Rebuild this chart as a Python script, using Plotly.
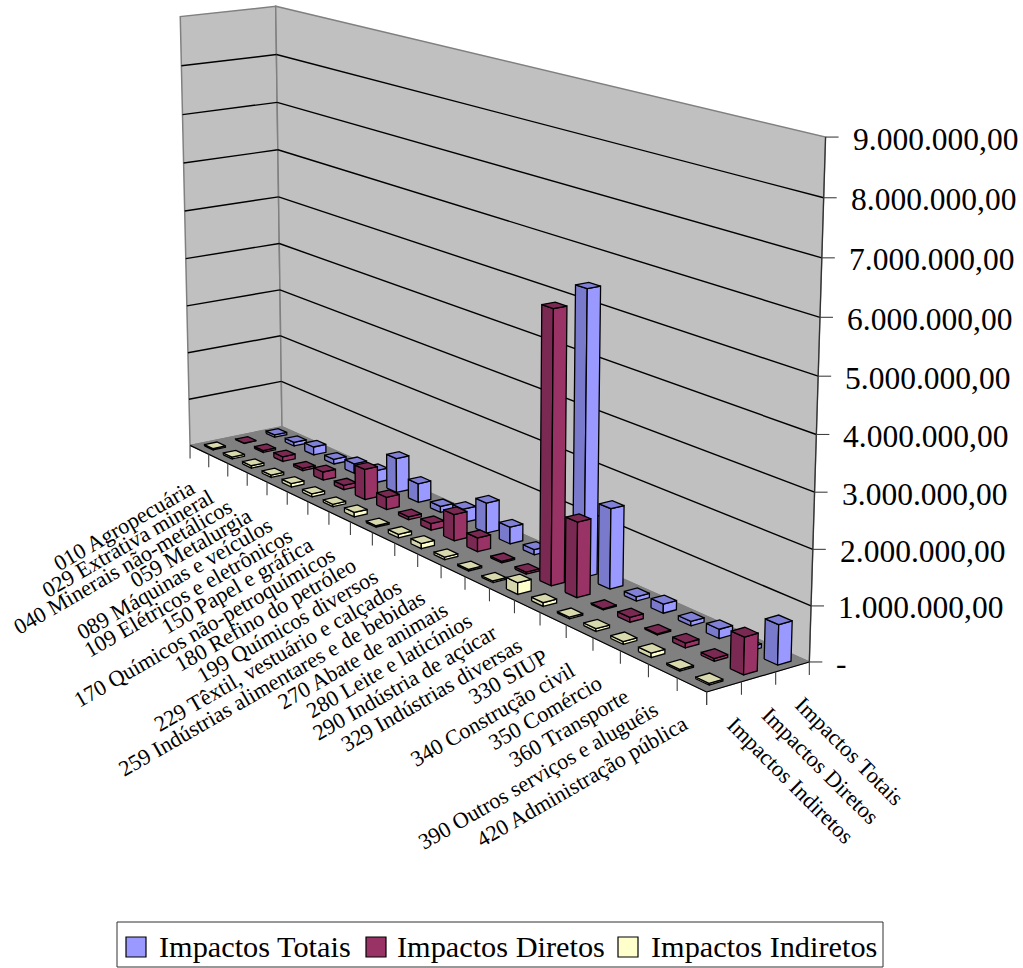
import numpy as np
import plotly.graph_objects as go

# Sector names along the category axis
sectors = [
    "010 Agropecuária", "029 Extrativa mineral", "040 Minerais não-metálicos",
    "059 Metalurgia", "089 Máquinas e veículos", "109 Elétricos e eletrônicos",
    "150 Papel e gráfica", "170 Químicos não-petroquímicos", "180 Refino do petróleo",
    "199 Químicos diversos", "229 Têxtil, vestuário e calçados",
    "259 Indústrias alimentares e de bebidas", "270 Abate de animais",
    "280 Leite e laticínios", "290 Indústria de açúcar", "329 Indústrias diversas",
    "330 SIUP", "340 Construção civil", "350 Comércio", "360 Transporte",
    "390 Outros serviços e aluguéis", "420 Administração pública",
]

impactos_totais = [
    50000, 80000, 170000, 100000, 200000, 250000, 700000, 380000, 120000, 270000, 600000,
    330000, 100000, 50000, 5420000, 1520000, 80000, 170000, 80000, 170000, 70000, 720000,
]
impactos_diretos = [
    10000, 40000, 100000, 50000, 170000, 90000, 620000, 250000, 60000, 130000, 520000,
    270000, 30000, 40000, 5170000, 1420000, 20000, 90000, 20000, 90000, 50000, 670000,
]
impactos_indiretos = [
    30000, 40000, 50000, 50000, 70000, 60000, 50000, 90000, 30000, 70000, 100000,
    50000, 30000, 30000, 220000, 70000, 30000, 50000, 50000, 80000, 30000, 30000,
]

value_ticks = [0, 1e6, 2e6, 3e6, 4e6, 5e6, 6e6, 7e6, 8e6, 9e6]
value_labels = ["-", "1.000.000,00", "2.000.000,00", "3.000.000,00", "4.000.000,00",
                "5.000.000,00", "6.000.000,00", "7.000.000,00", "8.000.000,00", "9.000.000,00"]
value_max = 9e6

# Series from the front row to the back row, with their three face shades
series = [
    dict(name="Impactos Indiretos", values=impactos_indiretos,
         light="#FFFFCC", side="#D6D6AC", top="#D9D9AE"),
    dict(name="Impactos Diretos", values=impactos_diretos,
         light="#993366", side="#7A2952", top="#7A2952"),
    dict(name="Impactos Totais", values=impactos_totais,
         light="#9999FF", side="#7A7ACC", top="#8080D6"),
]

# Camera: a projective map from the unit box (category, depth, value) to page pixels,
# solved from where the corners of the box sit on the page.
box = np.array([[0, 0, 0], [1, 0, 0], [1, 1, 0], [0, 1, 0], [0, 1, 1], [1, 1, 1], [0, 0, 1]], float)
page = np.array([[190, 445], [707, 692], [809, 662], [282, 427], [276, 6], [825.5, 137], [180, 17]], float)


def solve_camera(world, image):
    rows = []
    for (X, Y, Z), (u, v) in zip(world, image):
        rows.append([X, Y, Z, 1, 0, 0, 0, 0, -u * X, -u * Y, -u * Z, -u])
        rows.append([0, 0, 0, 0, X, Y, Z, 1, -v * X, -v * Y, -v * Z, -v])
    return np.linalg.svd(np.array(rows))[2][-1].reshape(3, 4)


CAMERA = solve_camera(box, page)


def project(cx, cy, cz):
    h = CAMERA @ np.array([cx, cy, cz, 1.0])
    return h[0] / h[2], h[1] / h[2]


fig = go.Figure()


def polygon(corners, fill, line, width=1.3):
    pts = [project(*c) for c in corners]
    pts.append(pts[0])
    fig.add_trace(go.Scatter(
        x=[p[0] for p in pts], y=[p[1] for p in pts], mode="lines", fill="toself",
        fillcolor=fill, line=dict(color=line, width=width), hoverinfo="skip", showlegend=False,
    ))


def segments(pairs, color, width):
    xs, ys = [], []
    for a, b in pairs:
        xs += [a[0], b[0], None]
        ys += [a[1], b[1], None]
    fig.add_trace(go.Scatter(x=xs, y=ys, mode="lines", line=dict(color=color, width=width),
                             hoverinfo="skip", showlegend=False))


# Walls and floor
polygon([(0, 0, 0), (0, 1, 0), (0, 1, 1), (0, 0, 1)], "#C0C0C0", "#808080", 1.5)
polygon([(0, 1, 0), (1, 1, 0), (1, 1, 1), (0, 1, 1)], "#C0C0C0", "#808080", 1.5)

# Gridlines across both walls
grid = []
for v in value_ticks[1:-1]:
    z = v / value_max
    grid.append((project(0, 0, z), project(0, 1, z)))
    grid.append((project(0, 1, z), project(1, 1, z)))
segments(grid, "#000000", 1.4)

polygon([(0, 0, 0), (1, 0, 0), (1, 1, 0), (0, 1, 0)], "#808080", "#808080", 1)
segments([(project(0, 0, 0), project(1, 0, 0)), (project(1, 0, 0), project(1, 1, 0))], "#000000", 1.2)
segments([(project(1, 1, 0), project(1, 1, 1))], "#303030", 1.2)

# Tick marks on the three axes
n_cat = len(sectors)
n_ser = len(series)
TICK = 13
ticks = []
for i in range(n_cat + 1):
    x, y = project(i / n_cat, 0, 0)
    ticks.append(((x, y), (x, y + TICK)))
for j in range(n_ser + 1):
    x, y = project(1, j / n_ser, 0)
    ticks.append(((x, y), (x, y + TICK)))
for v in value_ticks:
    x, y = project(1, 1, v / value_max)
    ticks.append(((x, y), (x + TICK, y)))
segments(ticks, "#404040", 1.1)

# Bars, painted from the back row forward and from the far end of each row to the near end
BAR_X = 0.45
BAR_Y = 0.40
for j in reversed(range(n_ser)):
    s = series[j]
    for i in range(n_cat):
        x0, x1 = (i + 0.5 - BAR_X / 2) / n_cat, (i + 0.5 + BAR_X / 2) / n_cat
        y0, y1 = (j + 0.5 - BAR_Y / 2) / n_ser, (j + 0.5 + BAR_Y / 2) / n_ser
        z = s["values"][i] / value_max
        polygon([(x0, y0, 0), (x1, y0, 0), (x1, y0, z), (x0, y0, z)], s["side"], "#000000")
        polygon([(x1, y0, 0), (x1, y1, 0), (x1, y1, z), (x1, y0, z)], s["light"], "#000000")
        polygon([(x0, y0, z), (x1, y0, z), (x1, y1, z), (x0, y1, z)], s["top"], "#000000")

FONT = "Liberation Serif"
annotations = []
for i, name in enumerate(sectors):
    x, y = project((i + 0.5) / n_cat, 0, 0)
    annotations.append(dict(x=x + 2, y=y + 23, text=name, textangle=-30, xanchor="right", yanchor="top",
                            showarrow=False, font=dict(family=FONT, size=22.2, color="#000000")))
for j, s in enumerate(series):
    x, y = project(1, (j + 0.5) / n_ser, 0)
    annotations.append(dict(x=x - 5, y=y + 23, text=s["name"], textangle=45, xanchor="left", yanchor="top",
                            showarrow=False, font=dict(family=FONT, size=22.5, color="#000000")))
for v, label in zip(value_ticks, value_labels):
    x, y = project(1, 1, v / value_max)
    annotations.append(dict(x=x + 25, y=y + 2, text=label, xanchor="left", yanchor="middle",
                            showarrow=False, font=dict(family=FONT, size=31.5, color="#000000")))

# Legend box along the bottom edge, back row first
legend_box = dict(x0=117, x1=883, y0=922, y1=967)
legend_swatch_x = [126, 366, 618]
legend_text_x = [157, 395, 649]
LEGEND_SWATCH = 20
LEGEND_SWATCH_TOP = 937
LEGEND_TEXT_Y = 947
shapes = [dict(type="rect", xref="x", yref="y", line=dict(color="#303030", width=1),
               fillcolor="#FFFFFF", **legend_box)]
for s, sx, tx in zip(reversed(series), legend_swatch_x, legend_text_x):
    shapes.append(dict(type="rect", xref="x", yref="y", x0=sx, x1=sx + LEGEND_SWATCH,
                       y0=LEGEND_SWATCH_TOP, y1=LEGEND_SWATCH_TOP + LEGEND_SWATCH,
                       fillcolor=s["light"], line=dict(color="#000000", width=1.2)))
    annotations.append(dict(x=tx, y=LEGEND_TEXT_Y, text=s["name"], xanchor="left", yanchor="middle",
                            showarrow=False, font=dict(family=FONT, size=30.3, color="#000000")))

fig.update_layout(
    width=1023, height=968, autosize=False,
    margin=dict(l=0, r=0, t=0, b=0),
    paper_bgcolor="#FFFFFF", plot_bgcolor="#FFFFFF",
    xaxis=dict(visible=False, range=[0, 1023], fixedrange=True),
    yaxis=dict(visible=False, range=[968, 0], fixedrange=True),
    annotations=annotations,
    shapes=shapes,
    showlegend=False,
)

fig.write_html("out.html")
